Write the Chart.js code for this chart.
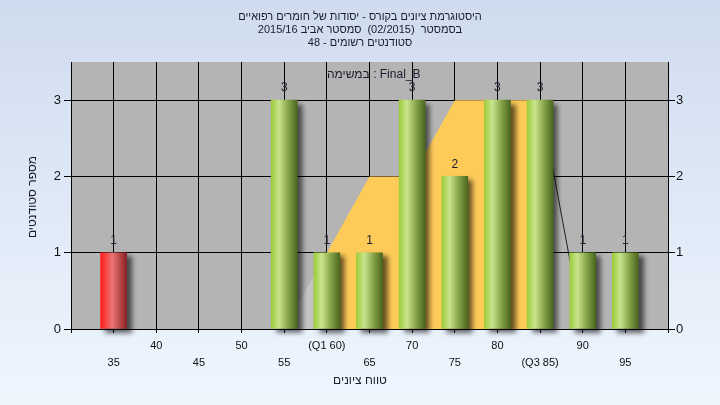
<!DOCTYPE html>
<html>
<head>
<meta charset="utf-8">
<script src="https://cdn.jsdelivr.net/npm/chart.js@4.4.1/dist/chart.umd.min.js"></script>
<style>
  html, body { margin: 0; padding: 0; }
  #wrap { width: 720px; height: 405px; background: linear-gradient(#cfdcef, #eff6fe); }
</style>
</head>
<body>
<div id="wrap"><canvas id="hist" width="720" height="405"></canvas></div>
<script>
// histogram data
const grades = [35, 40, 45, 50, 55, 60, 65, 70, 75, 80, 85, 90, 95];
const counts = [1, 0, 0, 0, 3, 1, 1, 3, 2, 3, 3, 1, 1];
const tickLabels = ['35', '40', '45', '50', '55', '(Q1 60)', '65', '70', '75', '80', '(Q3 85)', '90', '95'];
const yTicks = [0, 1, 2, 3];

// quartile band outline
const curveX = [55, 60, 65, 70, 75, 80, 85, 90];
const curveY = [0, 1, 2, 2, 3, 3, 3, 0];
const q1 = 60;
const q3 = 85;
const passGrade = 55;

const titleLines = [
  'היסטוגרמת ציונים בקורס - יסודות של חומרים רפואיים',
  'בסמסטר  (02/2015)  סמסטר אביב 2015/16',
  'סטודנטים רשומים - 48'
];
const assignment = 'במשימה : Final_B';
const xTitle = 'טווח ציונים';
const yTitle = 'מספר סטודנטים';

const FONT = '"Liberation Sans", "DejaVu Sans", sans-serif';
const ink = '#1b1b2e';

function curvePart(from, to) {
  const pts = [];
  curveX.forEach(function(x, i) {
    if (x >= from && x <= to) pts.push({ x: x, y: curveY[i] });
  });
  return pts;
}

const barData = grades.map(function(g, i) { return { x: g, y: counts[i] || null }; });

function barFill(c) {
  const chart = c.chart;
  if (c.type !== 'data' || !chart.chartArea) return '#9ccf3c';
  const px = chart.scales.x.getPixelForValue(c.raw.x);
  const g = chart.ctx.createLinearGradient(px - 13, 0, px + 13, 0);
  if (c.raw.x < passGrade) {
    g.addColorStop(0, '#ff1c1c');
    g.addColorStop(0.45, '#ec7474');
    g.addColorStop(1, '#8a2222');
  } else {
    g.addColorStop(0, '#9bcd3a');
    g.addColorStop(0.3, '#c8e48e');
    g.addColorStop(0.65, '#86a448');
    g.addColorStop(1, '#4a661f');
  }
  return g;
}

const decor = {
  id: 'decor',
  beforeDraw(chart) {
    const a = chart.chartArea, ctx = chart.ctx;
    ctx.save();
    ctx.fillStyle = '#b4b4b4';
    ctx.fillRect(a.left, a.top, a.right - a.left, a.bottom - a.top);
    ctx.restore();
  },
  beforeDatasetDraw(chart, args) {
    const ctx = chart.ctx;
    ctx.save();
    if (args.meta.type === 'bar') {
      ctx.shadowColor = 'rgba(0,0,0,0.6)';
      ctx.shadowOffsetX = 5;
      ctx.shadowOffsetY = 4;
      ctx.shadowBlur = 5;
    }
  },
  afterDatasetDraw(chart) {
    chart.ctx.restore();
  },
  afterDraw(chart) {
    const ctx = chart.ctx;
    ctx.save();
    ctx.fillStyle = ink;
    ctx.textBaseline = 'middle';
    ctx.textAlign = 'center';
    ctx.font = '12px ' + FONT;

    // values over bars
    const meta = chart.getDatasetMeta(3);
    meta.data.forEach(function(el, i) {
      if (counts[i] > 0) ctx.fillText(String(counts[i]), el.x, el.y - 12);
    });

    ctx.textAlign = 'left';
    ctx.fillText(assignment, 327, 75);

    ctx.direction = 'rtl';
    ctx.textAlign = 'center';
    ctx.font = '11px ' + FONT;
    titleLines.forEach(function(t, i) { ctx.fillText(t, 360, 17 + i * 13); });
    ctx.font = '12px ' + FONT;
    ctx.fillText(xTitle, 360, 381);

    ctx.translate(33, 197);
    ctx.rotate(-Math.PI / 2);
    ctx.fillText(yTitle, 0, 0);
    ctx.restore();
  }
};

new Chart(document.getElementById('hist'), {
  type: 'bar',
  data: {
    datasets: [{
      type: 'line',
      data: curvePart(curveX[0], q1),
      backgroundColor: '#c3c3c3',
      borderWidth: 0,
      pointRadius: 0,
      fill: 'origin',
      order: 3
    }, {
      type: 'line',
      data: curvePart(q1, q3),
      backgroundColor: '#fecb59',
      borderWidth: 0,
      pointRadius: 0,
      fill: 'origin',
      order: 2
    }, {
      type: 'line',
      data: curvePart(q3, curveX[curveX.length - 1]),
      borderColor: '#222',
      borderWidth: 1,
      pointRadius: 0,
      fill: false,
      order: 2
    }, {
      type: 'bar',
      data: barData,
      backgroundColor: barFill,
      barThickness: 26,
      clip: 10,
      order: 1
    }]
  },
  options: {
    responsive: false,
    animation: false,
    layout: { padding: { top: 62, left: 0, right: 0, bottom: 0 } },
    plugins: {
      legend: { display: false },
      tooltip: { enabled: false }
    },
    scales: {
      x: {
        type: 'linear',
        min: 30,
        max: 100,
        offset: false,
        afterFit: function(s) { s.height = 76; },
        afterBuildTicks: function(s) {
          s.ticks = [];
          for (let v = 30; v <= 100; v += 5) s.ticks.push({ value: v });
        },
        grid: { color: '#000', lineWidth: 1, tickLength: 4, offset: false },
        border: { color: '#000' },
        ticks: {
          color: '#111',
          padding: 4,
          maxRotation: 0,
          autoSkip: false,
          font: { family: FONT, size: 11, lineHeight: '17px' },
          callback: function(v) {
            const i = grades.indexOf(v);
            if (i < 0) return '';
            return i % 2 ? [tickLabels[i], ''] : ['', tickLabels[i]];
          }
        }
      },
      y: {
        min: 0,
        max: 3.5,
        afterFit: function(s) { s.width = 71; },
        afterBuildTicks: function(s) { s.ticks = yTicks.map(function(v) { return { value: v }; }); },
        grid: { color: '#000', lineWidth: 1, tickLength: 7 },
        border: { color: '#000' },
        ticks: { color: '#111', padding: 3, font: { family: FONT, size: 13 } }
      },
      y2: {
        position: 'right',
        min: 0,
        max: 3.5,
        afterFit: function(s) { s.width = 52; },
        afterBuildTicks: function(s) { s.ticks = yTicks.map(function(v) { return { value: v }; }); },
        grid: { drawOnChartArea: false, color: '#000', tickLength: 7 },
        border: { color: '#000' },
        ticks: { color: '#111', padding: 1, font: { family: FONT, size: 13 } }
      }
    }
  },
  plugins: [decor]
});
</script>
</body>
</html>
